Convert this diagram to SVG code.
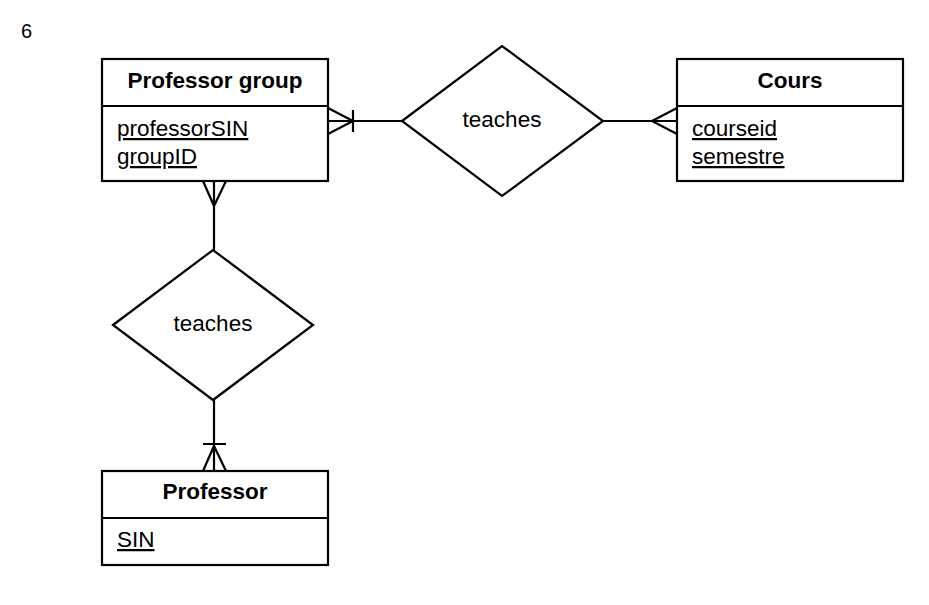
<svg xmlns="http://www.w3.org/2000/svg" width="929" height="605" viewBox="0 0 929 605">
<style>
.box{fill:#fff;stroke:#000;stroke-width:2.2}
.ln{fill:none;stroke:#000;stroke-width:2.2}
.t{font-family:"Liberation Sans",Arial,sans-serif;font-size:22.5px;fill:#000}
.h{font-weight:bold;text-anchor:middle}
.u{text-decoration:underline}
.c{text-anchor:middle}
</style>
<rect width="929" height="605" fill="#fff"/>
<text class="t" x="21" y="38" style="font-size:20px">6</text>
<g id="connectors">
<path class="ln" d="M328,121H402M328,108L353,121L328,134M353,110V132"/>
<path class="ln" d="M603,121H677M677,108L652,121L677,134"/>
<path class="ln" d="M214,181V250M203,181L214,206L226,181"/>
<path class="ln" d="M214,400V471M203,471L214,446L226,471M203,444H226"/>
</g>
<g id="professor-group">
<rect class="box" x="102" y="59" width="226" height="122"/>
<path class="ln" d="M102,106H328"/>
<text class="t h" x="215" y="88">Professor group</text>
<text class="t u" x="117" y="136">professorSIN</text>
<text class="t u" x="117" y="164">groupID</text>
</g>
<g id="cours">
<rect class="box" x="677" y="59" width="226" height="122"/>
<path class="ln" d="M677,106H903"/>
<text class="t h" x="790" y="88">Cours</text>
<text class="t u" x="692" y="136">courseid</text>
<text class="t u" x="692" y="164">semestre</text>
</g>
<g id="professor">
<rect class="box" x="102" y="471" width="226" height="94"/>
<path class="ln" d="M102,518H328"/>
<text class="t h" x="215" y="499">Professor</text>
<text class="t u" x="117" y="547">SIN</text>
</g>
<g id="teaches-top">
<path class="box" d="M402,121L502,46L603,121L502,196Z"/>
<text class="t c" x="502" y="127">teaches</text>
</g>
<g id="teaches-left">
<path class="box" d="M113,325L213,250L313,325L213,400Z"/>
<text class="t c" x="213" y="331">teaches</text>
</g>
</svg>
